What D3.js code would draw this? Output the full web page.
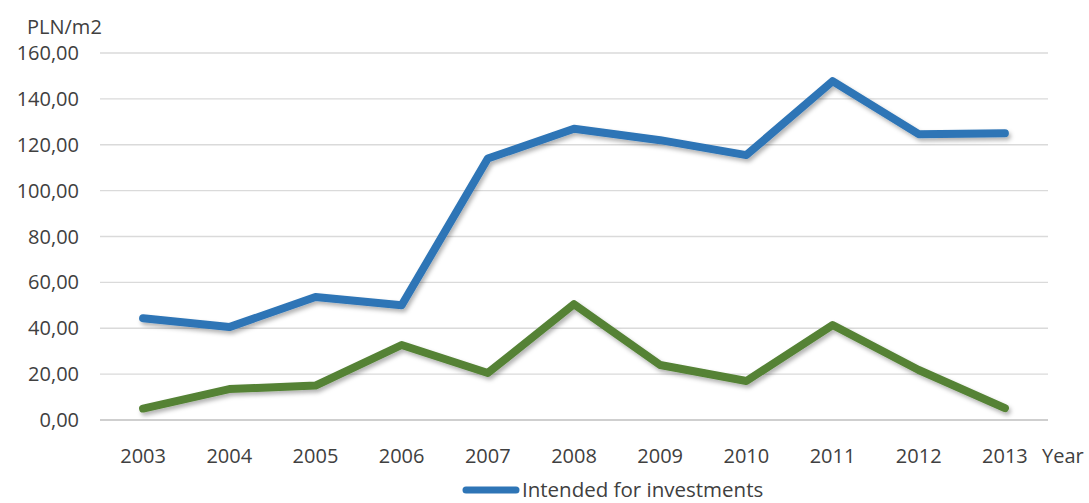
<!doctype html>
<html lang="en">
<head>
<meta charset="utf-8">
<title>PLN/m2 by year</title>
<script src="https://cdn.jsdelivr.net/npm/d3@7"></script>
<style>
  body { margin: 0; background: #fff; overflow: hidden; }
  svg { display: block; }
  svg text { font-family: "Open Sans", "Noto Sans", sans-serif; fill: #404040; }
</style>
</head>
<body>
<div id="chart"></div>
<script>
  const years = ['2003', '2004', '2005', '2006', '2007', '2008', '2009', '2010', '2011', '2012', '2013'];
  const investments = [44.4, 40.5, 53.6, 50.0, 114.0, 127.0, 122.0, 115.5, 147.7, 124.6, 125.0];
  const otherUse = [5.0, 13.5, 15.0, 32.7, 20.5, 50.5, 24.0, 17.0, 41.4, 21.8, 5.2];
  const yTicks = [0, 20, 40, 60, 80, 100, 120, 140, 160];
  const seriesNames = ['Intended for investments'];

  const width = 1089, height = 503;
  const margin = {top: 53, right: 41, bottom: 83, left: 100};

  const svg = d3.select('#chart').append('svg')
    .attr('width', width)
    .attr('height', height);

  const defs = svg.append('defs');
  const shadow = defs.append('filter')
    .attr('id', 'shadow')
    .attr('x', '-5%').attr('y', '-20%')
    .attr('width', '110%').attr('height', '140%');
  shadow.append('feDropShadow')
    .attr('dx', 2).attr('dy', 3)
    .attr('stdDeviation', 2)
    .attr('flood-color', '#000')
    .attr('flood-opacity', 0.3);

  const x = d3.scaleBand()
    .domain(years)
    .range([margin.left, width - margin.right]);

  const y = d3.scaleLinear()
    .domain([0, 160])
    .range([height - margin.bottom, margin.top]);

  // gridlines
  svg.append('g')
    .selectAll('line')
    .data(yTicks)
    .join('line')
    .attr('x1', margin.left)
    .attr('x2', width - margin.right)
    .attr('y1', d => y(d))
    .attr('y2', d => y(d))
    .attr('stroke', d => d === 0 ? '#cfcfcf' : '#dadada')
    .attr('stroke-width', d => d === 0 ? 2 : 1.3);

  // y labels
  const fmt = d => d3.format('.2f')(d).replace('.', ',');
  svg.append('g')
    .selectAll('text')
    .data(yTicks)
    .join('text')
    .attr('x', 79)
    .attr('y', d => y(d))
    .attr('dy', '0.35em')
    .attr('text-anchor', 'end')
    .attr('font-size', 20)
    .text(fmt);

  svg.append('text')
    .attr('x', 27)
    .attr('y', 34)
    .attr('font-size', 20)
    .text('PLN/m2');

  // x labels
  svg.append('g')
    .selectAll('text')
    .data(years)
    .join('text')
    .attr('x', d => x(d) + x.bandwidth() / 2)
    .attr('y', 463)
    .attr('text-anchor', 'middle')
    .attr('font-size', 20)
    .text(d => d);

  svg.append('text')
    .attr('x', 1042)
    .attr('y', 463)
    .attr('font-size', 20)
    .text('Year');

  const line = d3.line()
    .x((d, i) => x(years[i]) + x.bandwidth() / 2)
    .y(d => y(d));

  const series = [
    {values: otherUse, color: '#548235'},
    {values: investments, color: '#2e75b6'}
  ];

  svg.append('g')
    .selectAll('path')
    .data(series)
    .join('path')
    .attr('d', d => line(d.values))
    .attr('fill', 'none')
    .attr('stroke', d => d.color)
    .attr('stroke-width', 8)
    .attr('stroke-linejoin', 'round')
    .attr('stroke-linecap', 'round')
    .attr('filter', 'url(#shadow)');

  // legend
  const legend = svg.append('g');
  legend.append('line')
    .attr('x1', 466).attr('x2', 516)
    .attr('y1', 490).attr('y2', 490)
    .attr('stroke', '#2e75b6')
    .attr('stroke-width', 7)
    .attr('stroke-linecap', 'round');
  legend.append('text')
    .attr('x', 522)
    .attr('y', 497)
    .attr('font-size', 20.5)
    .text(seriesNames[0]);
</script>
</body>
</html>
